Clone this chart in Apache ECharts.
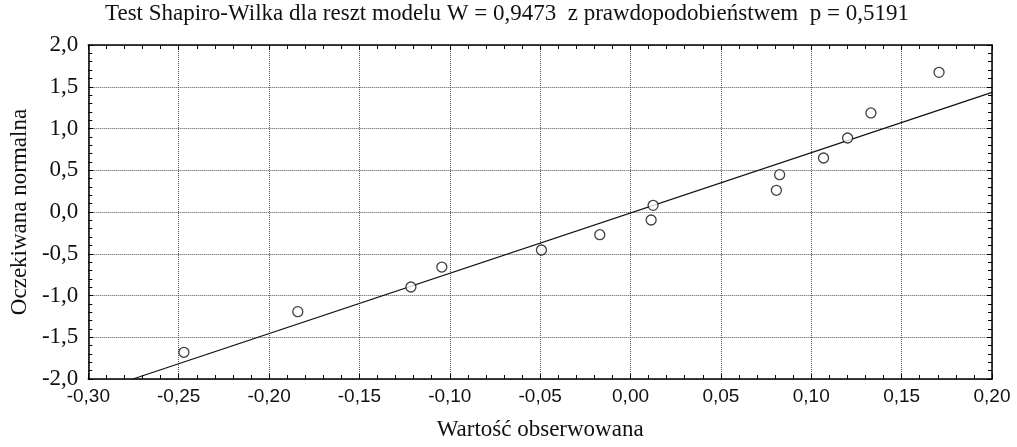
<!DOCTYPE html>
<html>
<head>
<meta charset="utf-8">
<script src="https://cdn.jsdelivr.net/npm/echarts@6/dist/echarts.min.js"></script>
<style>
  html, body { margin: 0; padding: 0; background: #fff; }
  #chart { width: 1017px; height: 447px; }
</style>
</head>
<body>
<div id="chart"></div>
<script>
// observed residuals (x) and expected normal values (y)
var observed = [-0.2471, -0.1841, -0.1215, -0.1044, -0.0493, -0.0170, 0.0114, 0.0125,
  0.0807, 0.0825, 0.1068, 0.1201, 0.1330, 0.1707];
var expected = [-1.680, -1.194, -0.898, -0.659, -0.455, -0.272, -0.096, 0.080,
  0.260, 0.447, 0.647, 0.886, 1.186, 1.673];
// reference line end points
var lineX = [-0.2753, 0.20];
var lineY = [-2.0, 1.434];

var titleText = 'Test Shapiro-Wilka dla reszt modelu W = 0,9473  z prawdopodobieństwem  p = 0,5191';
var xName = 'Wartość obserwowana';
var yName = 'Oczekiwana normalna';

var fmt = function (v, d) {
  return v.toFixed(d).replace('.', ',');
};

var chart = echarts.init(document.getElementById('chart'));

var gridLine = { show: true, lineStyle: { color: '#555', type: [1, 1], width: 1 } };
var axisBlack = { show: true, onZero: false, lineStyle: { color: '#000', width: 1.5 } };
var tick = { show: true, inside: true, length: 5, lineStyle: { color: '#000' } };
var minor = { show: true, splitNumber: 5, length: 4, lineStyle: { color: '#000' } };

chart.setOption({
  animation: false,
  backgroundColor: '#fff',
  title: {
    text: titleText,
    left: 507,
    textAlign: 'center',
    top: 2,
    padding: 0,
    textStyle: { fontFamily: 'Liberation Serif', fontSize: 23, fontWeight: 'normal', color: '#111' }
  },
  grid: { left: 87, right: 25, top: 45, bottom: 68, show: false },
  xAxis: [{
    type: 'value',
    min: -0.30,
    max: 0.20,
    interval: 0.05,
    name: xName,
    nameLocation: 'middle',
    nameGap: 39,
    nameTextStyle: { fontFamily: 'Liberation Serif', fontSize: 23, color: '#111' },
    axisLine: axisBlack,
    axisTick: tick,
    minorTick: minor,
    axisLabel: {
      fontFamily: 'Liberation Sans', fontSize: 19, color: '#111', margin: 8,
      formatter: function (v) { return fmt(v, 2); }
    },
    splitLine: gridLine
  }, {
    type: 'value',
    position: 'top',
    min: -0.30,
    max: 0.20,
    interval: 0.05,
    axisLine: axisBlack,
    axisTick: tick,
    minorTick: minor,
    axisLabel: { show: false },
    splitLine: { show: false }
  }],
  yAxis: [{
    type: 'value',
    min: -2,
    max: 2,
    interval: 0.5,
    name: yName,
    nameLocation: 'middle',
    nameGap: 57,
    nameTextStyle: { fontFamily: 'Liberation Serif', fontSize: 23, color: '#111' },
    axisLine: axisBlack,
    axisTick: tick,
    minorTick: minor,
    axisLabel: {
      fontFamily: 'Liberation Serif', fontSize: 23, color: '#111', margin: 10,
      formatter: function (v) { return fmt(v, 1); }
    },
    splitLine: gridLine
  }, {
    type: 'value',
    position: 'right',
    min: -2,
    max: 2,
    interval: 0.5,
    axisLine: axisBlack,
    axisTick: tick,
    minorTick: minor,
    axisLabel: { show: false },
    splitLine: { show: false }
  }],
  series: [{
    type: 'line',
    data: lineX.map(function (x, i) { return [x, lineY[i]]; }),
    symbol: 'none',
    lineStyle: { color: '#111', width: 1.3 },
    z: 3
  }, {
    type: 'scatter',
    data: observed.map(function (x, i) { return [x, expected[i]]; }),
    symbol: 'circle',
    symbolSize: 10,
    itemStyle: { color: '#fff', borderColor: '#111', borderWidth: 1.3 },
    z: 4
  }]
});
</script>
</body>
</html>
